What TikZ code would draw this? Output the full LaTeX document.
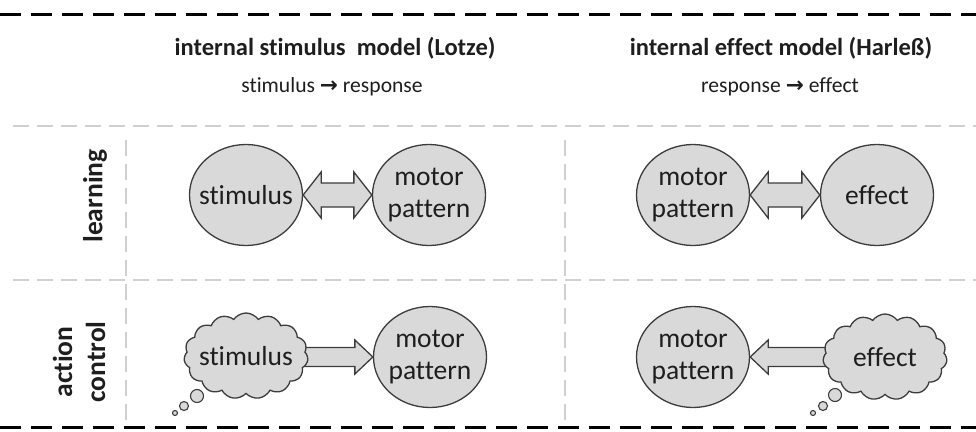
\documentclass[tikz,border=0pt]{standalone}
\usepackage{fontspec}
\setmainfont{Carlito}[Ligatures=NoCommon, RawFeature=-liga]
\newfontfamily\symfont{DejaVu Sans}
\usetikzlibrary{shapes.geometric,shapes.symbols,calc,backgrounds}
\definecolor{boxfill}{HTML}{D9D9D9}
\definecolor{edgecol}{HTML}{3C3C3C}
\definecolor{sepcol}{HTML}{D0D0D0}
\definecolor{ink}{HTML}{1E1E1E}
\tikzset{
  blob/.style={ellipse, draw=edgecol, fill=boxfill, line width=1.3pt,
    minimum width=113pt, minimum height=101pt, inner sep=-15pt, align=center,
    font=\fontsize{27.5}{32}\selectfont, text=ink},
  thought/.style={cloud, cloud puffs=15, cloud puff arc=110, cloud ignores aspect,
    draw=edgecol, fill=boxfill, line width=1.3pt, minimum width=124pt,
    minimum height=86pt, inner xsep=-20pt, inner ysep=0pt,
    font=\fontsize{27.5}{32}\selectfont, text=ink},
  bubble/.style={circle, draw=edgecol, fill=boxfill, line width=1.1pt, inner sep=0pt},
  arrowshape/.style={draw=edgecol, fill=boxfill, line width=1.3pt, line join=miter},
  heavydash/.style={draw=black, line width=3pt, dash pattern=on 21pt off 10pt},
  lightdash/.style={draw=sepcol, line width=2pt, dash pattern=on 16pt off 8pt},
  headtext/.style={font=\bfseries\fontsize{24.5}{29}\selectfont, text=ink},
  subtext/.style={font=\fontsize{21.6}{26}\selectfont, text=ink},
  rowlabel/.style={font=\bfseries\fontsize{27.5}{33}\selectfont, rotate=90, align=center, text=ink},
}
\newcommand{\dblarrow}[4]{%
  \path[arrowshape] let \p1=(#1), \p2=(#2) in
    (\x1,\y1) -- (\x1+18pt,\y1+#3) -- (\x1+18pt,\y1+#4) -- (\x2-18pt,\y1+#4)
    -- (\x2-18pt,\y1+#3) -- (\x2,\y1) -- (\x2-18pt,\y1-#3) -- (\x2-18pt,\y1-#4)
    -- (\x1+18pt,\y1-#4) -- (\x1+18pt,\y1-#3) -- cycle;}
\begin{document}
\begin{tikzpicture}[x=1pt,y=-1pt]
\useasboundingbox (0,0) rectangle (976,431);
% separators
\draw[heavydash] (0,14) -- (976,14);
\draw[heavydash] (0,427) -- (976,427);
\draw[lightdash] (13,126) -- (976,126);
\draw[lightdash] (13,280) -- (976,280);
\draw[lightdash] (126,140) -- (126,420);
\draw[lightdash] (565,140) -- (565,420);
% headers
\node[headtext] (h1) at (335,48) {internal stimulus~ model (Lotze)};
\node[subtext] (s1h) at (332,87) {stimulus {\symfont\bfseries →} response};
\node[headtext] (h2) at (781,48) {internal effect model (Harleß)};
\node[subtext] (s2h) at (780,87) {response {\symfont\bfseries →} effect};
% row labels
\node[rowlabel] (lab1) at (95,196) {learning};
\node[rowlabel] (lab2) at (79,362) {action\\control};
% learning row
\node[blob] (st1) at (246,195) {stimulus};
\node[blob] (mp1) at (429,195) {motor\\pattern};
\node[blob] (mp2) at (693,195) {motor\\pattern};
\node[blob] (ef1) at (877,195) {effect};
\dblarrow{st1.east}{mp1.west}{23pt}{12pt}
\dblarrow{mp2.east}{ef1.west}{23pt}{12pt}
% action control row
\node[thought] (cl1) at (246,356) {stimulus};
\node[blob] (mp3) at (430,357) {motor\\pattern};
\node[blob] (mp4) at (693,357) {motor\\pattern};
\node[thought] (cl2) at (885,357) {effect};
\node[bubble, minimum size=13pt] (b1) at (197,396) {};
\node[bubble, minimum size=9pt] (b2) at (184,406) {};
\node[bubble, minimum size=5pt] (b3) at (175,413) {};
\node[bubble, minimum size=13pt] (b4) at (835,395) {};
\node[bubble, minimum size=9pt] (b5) at (823,406) {};
\node[bubble, minimum size=5pt] (b6) at (813,413) {};
\begin{pgfonlayer}{background}
\path[arrowshape] let \p1=(cl1.center), \p2=(mp3.west) in
  (\x1,\y2+9.5pt) -- (\x2-18pt,\y2+9.5pt) -- (\x2-18pt,\y2+17pt) -- (\x2,\y2)
  -- (\x2-18pt,\y2-17pt) -- (\x2-18pt,\y2-9.5pt) -- (\x1,\y2-9.5pt) -- cycle;
\path[arrowshape] let \p1=(cl2.center), \p2=(mp4.east) in
  (\x1,\y2+9.5pt) -- (\x2+18pt,\y2+9.5pt) -- (\x2+18pt,\y2+17pt) -- (\x2,\y2)
  -- (\x2+18pt,\y2-17pt) -- (\x2+18pt,\y2-9.5pt) -- (\x1,\y2-9.5pt) -- cycle;
\end{pgfonlayer}
\end{tikzpicture}
\end{document}
